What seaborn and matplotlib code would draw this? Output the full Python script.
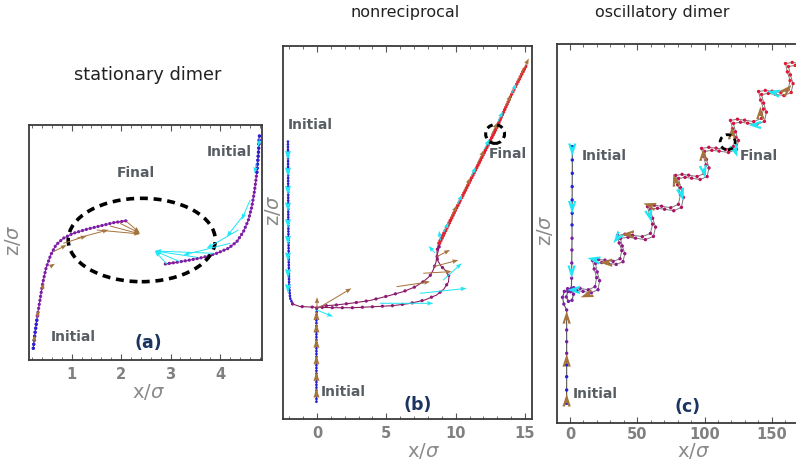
import numpy as np
import pandas as pd
import matplotlib
matplotlib.use("Agg")
import matplotlib.pyplot as plt
import seaborn as sns
from matplotlib.patches import Ellipse, Circle
from matplotlib.transforms import ScaledTranslation
from matplotlib.ticker import MultipleLocator
from matplotlib.colors import LinearSegmentedColormap

# ---------------- data : panel (a) stationary dimer ----------------
a_left_x = [0.223, 0.257, 0.304, 0.358, 0.413, 0.480, 0.575, 0.682, 0.830, 1.032, 1.304, 1.573, 1.842, 2.113]
a_left_z = [0.237, 0.540, 0.877, 1.215, 1.553, 1.856, 2.126, 2.328, 2.464, 2.565, 2.646, 2.713, 2.779, 2.820]
a_right_x = [4.798, 4.777, 4.745, 4.696, 4.644, 4.575, 4.474, 4.340, 4.170, 3.935, 3.664, 3.395, 3.126, 2.889]
a_right_z = [4.534, 4.184, 3.779, 3.407, 3.103, 2.834, 2.597, 2.395, 2.261, 2.160, 2.079, 2.024, 1.978, 1.943]
a_brown_x = [0.237, 0.298, 0.393, 0.561, 0.628, 0.830, 1.101, 1.506, 1.777, 1.978, 2.113]
a_brown_z = [0.364, 0.850, 1.417, 1.889, 2.192, 2.362, 2.464, 2.632, 2.713, 2.767, 2.800]
a_brown_u = [0.02, 0.03, 0.05, 0.10, 0.27, 0.47, 0.64, 0.877, 0.60, 0.40, 0.26]
a_brown_v = [0.14, 0.16, 0.14, 0.06, 0.135, 0.148, 0.17, -0.081, -0.16, -0.20, -0.22]
a_cyan_x = [4.798, 4.731, 4.609, 4.508, 4.372, 4.204, 3.866, 3.530, 3.192, 2.923]
a_cyan_z = [4.488, 3.981, 3.239, 2.970, 2.632, 2.362, 2.160, 2.079, 1.990, 1.943]
a_cyan_u = [-0.02, -0.03, -0.17, -0.37, -0.64, -0.945, -1.18, -0.84, -0.51, -0.24]
a_cyan_v = [-0.17, -0.20, -0.40, -0.47, -0.37, -0.237, 0.046, 0.127, 0.216, 0.263]
a_ellipse = [2.417, 2.429, 2.976, 1.688]   # centre x, centre z, width, height
a_xticks = [1, 2, 3, 4]

# ---------------- data : panel (b) nonreciprocal ----------------
b1_x = [-2.095, -2.08, -2.07, -2.04, -2.01, -1.94, -1.76, -1.25, -0.04, 1.28, 2.60, 4.02, 5.49, 6.70,
        7.78, 8.63, 9.15, 9.48, 9.52, 9.30, 8.94, 8.68, 8.65, 8.76, 9.95, 11.39, 12.84, 13.92, 14.94]
b1_z = [20.04, 17.27, 14.38, 11.49, 9.68, 8.74, 8.31, 8.13, 8.07, 8.04, 8.04, 8.11, 8.19, 8.35,
        8.60, 8.96, 9.39, 9.90, 10.33, 10.69, 11.05, 11.49, 12.07, 12.72, 15.10, 17.99, 20.88, 23.27, 25.36]
b2_x = [-0.04, -0.04, -0.04, -0.04, -0.02, 0.34, 1.40, 2.58, 3.81, 5.11, 6.21, 7.06, 7.66, 8.14,
        8.38, 8.58, 8.70, 8.87, 9.99, 11.43, 12.88, 14.00, 15.14]
b2_z = [1.25, 3.54, 5.71, 7.15, 8.02, 8.16, 8.24, 8.38, 8.56, 8.89, 9.20, 9.54, 9.92, 10.33,
        10.77, 11.34, 11.99, 12.69, 15.03, 17.92, 20.81, 23.34, 25.58]
b_cyan_x = [-0.04, 4.53, 7.42, 9.10, 8.50, 8.90]
b_cyan_z = [7.88, 8.36, 9.08, 10.04, 12.00, 12.90]
b_cyan_u = [1.20, 3.85, 3.37, 1.33, -0.45, -0.10]
b_cyan_v = [-0.48, 0.0, 0.36, 1.21, 0.50, 0.70]
b_cyanhead_z = [19.31, 18.11, 16.78, 15.58, 14.38, 13.17, 11.97, 10.77, 9.68]
b_brown_x = [0.0, 0.07, 5.74, 7.66, 8.38, 8.63]
b_brown_z = [8.0, 8.0, 9.56, 10.53, 11.0, 11.73]
b_brown_u = [0.0, 2.41, 2.41, 2.05, 1.81, 0.96]
b_brown_v = [0.8, 1.44, 0.36, 0.12, 0.48, 0.48]
b_brownhead_z = [1.6, 2.8, 4.0, 5.2, 6.3, 7.2]
b_diag_brown_x = [9.63, 10.61, 11.59, 12.56, 13.54, 14.42]
b_diag_brown_z = [14.5, 16.5, 18.5, 20.5, 22.5, 24.3]
b_diag_brown_u = [0.45, 0.45, 0.45, 0.45, 0.45, 0.85]
b_diag_brown_v = [0.92, 0.92, 0.92, 0.92, 0.92, 1.75]
b_diag_cyan_x = [9.14, 10.12, 11.10, 12.07, 13.05, 14.03]
b_diag_cyan_z = [13.5, 15.5, 17.5, 19.5, 21.5, 23.5]
b_final = [12.84, 20.59, 0.68]
b_xticks = [0, 5, 10, 15]

# ---------------- data : panel (c) oscillatory dimer ----------------
c_top_x = [1.7, 1.7, 1.7, 1.6, 1.6, 1.6, 1.5, 1.5, 1.4, 1.3, 1.2, 1.0, 2.6, 1.5, -1.2, -2.8, -1.6, -0.7]
c_top_z = [205.2, 195.3, 185.4, 175.5, 165.6, 155.7, 147.0, 137.1, 128.4, 118.7, 107.4, 99.9,
           95.5, 91.0, 90.2, 93.5, 97.5, 98.5]
c_bot_x = [-2.5, -2.5, -2.5, -2.5, -2.5, -2.5, -2.5, -2.5, -2.5, -4.6, -5.6, -4.2, -0.7]
c_bot_z = [14.4, 24.3, 34.2, 42.9, 51.6, 60.2, 68.9, 77.6, 83.8, 88.2, 93.2, 97.6, 98.5]
c_wig_x = [-0.7, 3.9, 8.6, 14.7, 19.7, 20.9, 19.1,
           17.8, 22.4, 27.1, 33.2, 38.3, 39.6, 37.7,
           36.4, 42.0, 47.6, 54.9, 60.9, 62.5, 60.3,
           58.7, 63.9, 69.2, 76.0, 81.7, 83.2, 81.1,
           79.6, 84.4, 89.3, 95.6, 100.8, 102.2, 100.3,
           98.9, 104.3, 109.7, 116.7, 122.6, 124.1, 121.9,
           120.4, 125.6, 130.9, 137.7, 143.4, 144.9, 142.8,
           141.3, 146.3, 151.3, 157.9, 163.3, 164.7, 162.7,
           161.3, 166.3, 171.3, 177.9, 183.3, 184.7, 182.7, 181.3]
c_wig_z = [98.5, 99.3, 98.7, 97.7, 100.0, 106.7, 113.2,
           119.5, 120.2, 119.7, 118.8, 120.8, 126.8, 132.5,
           138.1, 139.0, 138.3, 137.2, 139.6, 146.5, 153.1,
           159.6, 160.5, 159.8, 158.7, 161.2, 168.6, 175.8,
           182.7, 183.5, 182.9, 181.9, 184.1, 190.5, 196.8,
           202.8, 203.6, 203.0, 202.0, 204.3, 210.9, 217.4,
           223.6, 224.5, 223.8, 222.7, 225.1, 232.0, 238.7,
           245.1, 245.9, 245.3, 244.3, 246.6, 253.2, 259.7,
           265.9, 266.7, 266.1, 265.1, 267.4, 274.1, 280.6, 286.9]
c_cyan_x = [1.7, 1.6, 1.2, 5.0, 20.0, 36.4, 58.7, 82.3, 99.1, 122.0, 139.6, 153.6]
c_cyan_z = [205.2, 162.5, 114.5, 98.7, 121.0, 139.0, 156.0, 172.0, 189.0, 204.0, 221.3, 245.0]
c_cyan_u = [0, 0, 0, -7, -7, -4.2, 2, 2, 1.4, 2.5, -7, -7]
c_cyan_v = [-7, -7, -7, 0, 1.4, -5.6, -7, -7, -7, -6.5, 0, 1.4]
c_brown_x = [-2.5, -2.5, -2.5, 14.9, 29.0, 45.2, 61.5, 78.8, 99.1, 120.4, 141.5, 159.7]
c_brown_z = [14.4, 44.0, 76.0, 95.7, 119.0, 140.0, 161.0, 178.0, 197.0, 213.0, 228.0, 246.0]
c_brown_u = [0, 0, 0, -7, -7, -7, -7, -2, 0, 0, 0, 5]
c_brown_v = [7, 7, 7, -2.5, 0, 0, 2, 7, 7, 7, 7, 5]
c_final = [117.2, 208.5, 5.6]
c_xticks = [0, 50, 100, 150]

# ---------------- styling ----------------
sns.set_style("white")
plt.rcParams['font.family'] = ['DejaVu Sans']
BROWN = '#a5733c'
CYAN = '#1ee6f5'
BLUE = '#2323d8'
PURPLE = '#7d1fa5'
RED = '#e8202a'
TXT = '#585d64'
NAVY = '#1c3560'
TICKC = '#808080'
W, H = 796, 466

fig = plt.figure(figsize=(W / 100, H / 100), dpi=100)


def fpos(x, y):
    return x / W, 1 - y / H


def add_ax(l, t, r, b):
    return fig.add_axes([l / W, 1 - b / H, (r - l) / W, (b - t) / H])


def style_ax(ax, ticks, minor, pad=5):
    ax.set_xticks(ticks)
    ax.set_xticklabels([str(t) for t in ticks], fontweight='bold', fontsize=10.5, color=TICKC)
    ax.xaxis.set_minor_locator(MultipleLocator(minor))
    ax.set_yticks([])
    ax.tick_params(axis='x', which='both', direction='in', top=True, bottom=True, color='#555555')
    ax.tick_params(axis='x', which='major', length=4, pad=pad)
    ax.tick_params(axis='x', which='minor', length=2)
    for s in ax.spines.values():
        s.set_color('#3a3a3a')
        s.set_linewidth(1.3)
    ax.set_xlabel('')
    ax.set_ylabel('')


def dotted(ax, x, z, color, gap=1.2, lw=2.2, z_order=3):
    ax.plot(x, z, color=color, lw=lw, linestyle=(0, (0.01, gap)), dash_capstyle='round', zorder=z_order)


def heads(ax, x, z, u, v, color, w=0.008):
    ax.quiver(x, z, u, v, angles='xy', scale_units='xy', scale=1, color=color, width=w,
              headwidth=3.0, headlength=4.5, headaxislength=4.5, minshaft=0.2, zorder=6)


def shafts(ax, x, z, u, v, color, w=0.0042):
    ax.quiver(x, z, u, v, angles='xy', scale_units='xy', scale=1, color=color, width=w,
              headwidth=4.5, headlength=6, headaxislength=5.5, minshaft=0.5, zorder=5)


# ================= panel (a) =================
ax_a = add_ax(29, 125, 262, 360)
ax_a.set_xlim(0.136, 4.85)
ax_a.set_ylim(0, 4.757)
for xs, zs in [(a_left_x, a_left_z), (a_right_x, a_right_z)]:
    sns.lineplot(x=xs, y=zs, sort=False, estimator=None, color=PURPLE, lw=0.7, ax=ax_a)
    dotted(ax_a, xs, zs, PURPLE, lw=2.4)
    dotted(ax_a, xs[:3], zs[:3], BLUE, lw=2.4)
    ax_a.plot(xs[-2:], zs[-2:], color=RED, lw=1.0, zorder=2)
shafts(ax_a, a_brown_x, a_brown_z, a_brown_u, a_brown_v, BROWN)
shafts(ax_a, a_cyan_x, a_cyan_z, a_cyan_u, a_cyan_v, CYAN)
ax_a.add_patch(Ellipse((a_ellipse[0], a_ellipse[1]), a_ellipse[2], a_ellipse[3], fill=False,
                       ec='black', lw=2.6, linestyle=(0, (2.2, 1.6)), zorder=4))
style_ax(ax_a, a_xticks, 0.2)

# ================= panel (b) =================
ax_b = add_ax(283.3, 45.7, 531.7, 419)
ax_b.set_xlim(-2.43, 15.48)
ax_b.set_ylim(0, 26.97)
for xs, zs, nv, nd in [(b1_x, b1_z, 7, 23), (b2_x, b2_z, 5, 17)]:
    sns.lineplot(x=xs, y=zs, sort=False, estimator=None, color='#8a2060', lw=0.8, ax=ax_b)
    dotted(ax_b, xs[:nv], zs[:nv], BLUE, gap=1.0, lw=2.0)
    dotted(ax_b, xs[nv - 1:nd + 1], zs[nv - 1:nd + 1], '#8e1a78', gap=3.0, lw=2.4)
    dotted(ax_b, xs[nd:], zs[nd:], RED, gap=1.0, lw=2.0)
heads(ax_b, [b1_x[0]] * len(b_cyanhead_z), b_cyanhead_z, [0] * len(b_cyanhead_z),
      [-0.6] * len(b_cyanhead_z), CYAN, w=0.008)
heads(ax_b, [b2_x[0]] * len(b_brownhead_z), b_brownhead_z, [0] * len(b_brownhead_z),
      [0.6] * len(b_brownhead_z), BROWN, w=0.008)
shafts(ax_b, b_cyan_x, b_cyan_z, b_cyan_u, b_cyan_v, CYAN, w=0.004)
shafts(ax_b, b_brown_x, b_brown_z, b_brown_u, b_brown_v, BROWN, w=0.004)
shafts(ax_b, b_diag_cyan_x, b_diag_cyan_z, [0.35] * 6, [0.72] * 6, CYAN, w=0.004)
shafts(ax_b, b_diag_brown_x, b_diag_brown_z, b_diag_brown_u, b_diag_brown_v, BROWN, w=0.004)
ax_b.add_patch(Circle((b_final[0], b_final[1]), b_final[2], fill=False, ec='black', lw=2.2,
                      linestyle=(0, (2.0, 1.5)), zorder=7))
style_ax(ax_b, b_xticks, 1)

# ================= panel (c) =================
ax_c = add_ax(556.7, 44.3, 810, 422.7)
ax_c.set_xlim(-9.9, 178.4)
ax_c.set_ylim(0, 281.3)
sns.lineplot(x=c_top_x, y=c_top_z, sort=False, estimator=None, color='#555555', lw=0.8, ax=ax_c)
sns.lineplot(x=c_bot_x, y=c_bot_z, sort=False, estimator=None, color='#555555', lw=0.8, ax=ax_c)
top_cols = [BLUE] * 7 + [PURPLE] * (len(c_top_x) - 7)
bot_cols = [BLUE] * 4 + [PURPLE] * (len(c_bot_x) - 4)
ax_c.scatter(c_top_x, c_top_z, s=6, c=top_cols, zorder=4, linewidths=0)
ax_c.scatter(c_bot_x, c_bot_z, s=6, c=bot_cols, zorder=4, linewidths=0)
cmap = LinearSegmentedColormap.from_list('pr', [PURPLE, '#a81266', '#d81040', RED])
wcols = cmap(np.linspace(0, 1, len(c_wig_x)))
off = 1.5 / 100
for dx, dy in [(off, -off), (-off, off)]:
    tr = ax_c.transData + ScaledTranslation(dx, dy, fig.dpi_scale_trans)
    ax_c.plot(c_wig_x, c_wig_z, color='#7a7a7a', lw=0.7, transform=tr, zorder=3,
              solid_joinstyle='round')
    ax_c.scatter(c_wig_x, c_wig_z, s=6, c=wcols, transform=tr, zorder=4, linewidths=0)
heads(ax_c, c_cyan_x, c_cyan_z, c_cyan_u, c_cyan_v, CYAN, w=0.011)
heads(ax_c, c_brown_x, c_brown_z, c_brown_u, c_brown_v, BROWN, w=0.011)
ax_c.add_patch(Circle((c_final[0], c_final[1]), c_final[2], fill=False, ec='black', lw=2.0,
                      linestyle=(0, (2.0, 1.6)), zorder=7))
style_ax(ax_c, c_xticks, 10, pad=3)

# ================= texts =================
def ftxt(x, y, s, **kw):
    fx, fy = fpos(x, y)
    fig.text(fx, fy, s, ha='center', va='center', **kw)


ftxt(148, 75, 'stationary dimer', fontsize=12.8, color='#222222')
ftxt(405, 13, 'nonreciprocal', fontsize=11.5, color='#222222')
ftxt(662, 13, 'oscillatory dimer', fontsize=11.5, color='#222222')

lab = dict(fontsize=10, fontweight='bold', color=TXT)
ftxt(136, 173, 'Final', **lab)
ftxt(229, 152, 'Initial', **lab)
ftxt(73, 337, 'Initial', **lab)
ftxt(310, 125, 'Initial', **lab)
ftxt(508, 154, 'Final', **lab)
ftxt(343, 392, 'Initial', **lab)
ftxt(604, 156, 'Initial', **lab)
ftxt(759, 156, 'Final', **lab)
ftxt(595, 394, 'Initial', **lab)

pl = dict(fontsize=12.5, fontweight='bold', color=NAVY)
ftxt(148, 343, '(a)', **pl)
ftxt(418, 405, '(b)', **pl)
ftxt(688, 407, '(c)', **pl)

axl = dict(fontsize=14, color='#8a8a8a')
ftxt(148, 392, r'x/$\sigma$', **axl)
ftxt(423, 451, r'x/$\sigma$', **axl)
ftxt(693, 451, r'x/$\sigma$', **axl)
ftxt(13, 240, r'z/$\sigma$', rotation=90, **axl)
ftxt(273, 210, r'z/$\sigma$', rotation=90, **axl)
ftxt(545, 230, r'z/$\sigma$', rotation=90, **axl)

fig.savefig('out.png', dpi=100)
